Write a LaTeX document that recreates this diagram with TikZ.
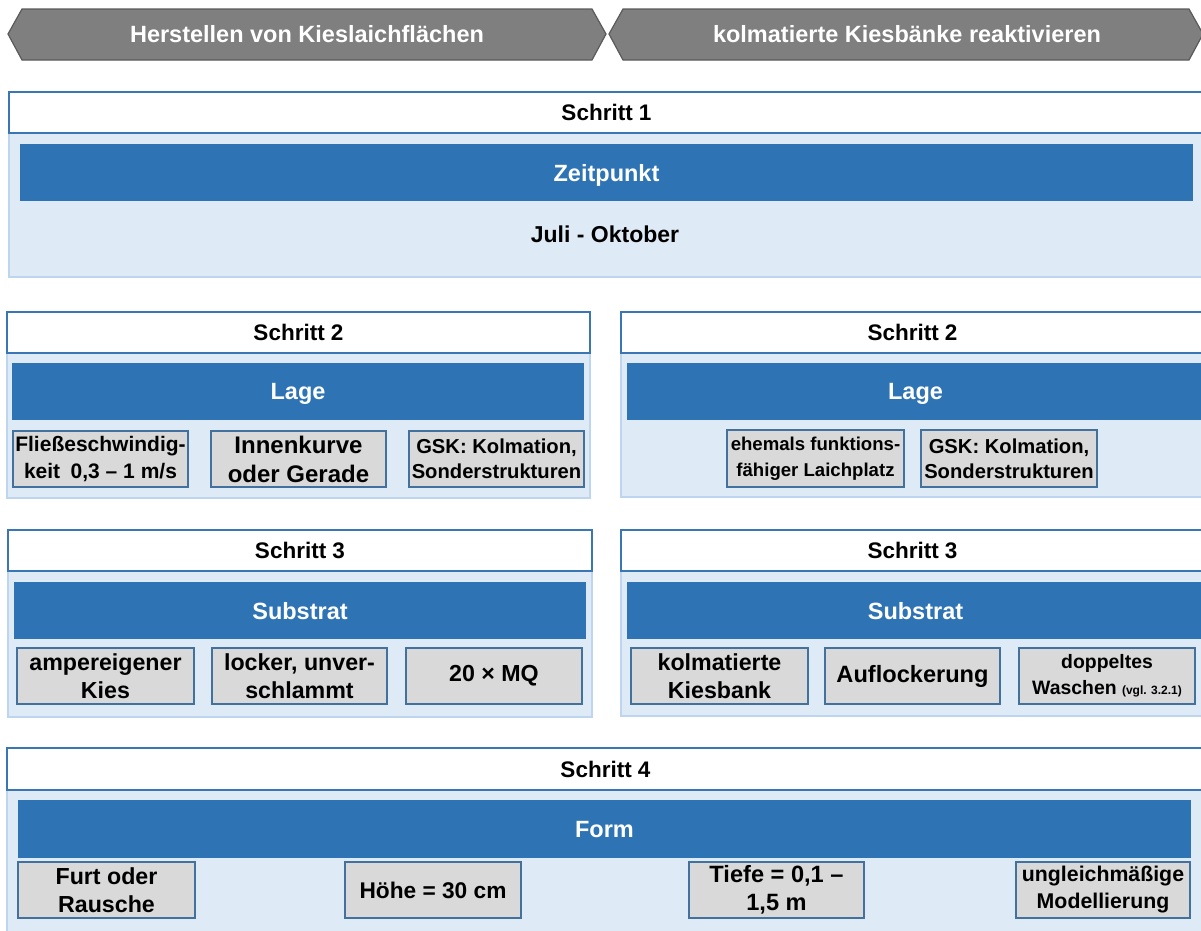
\documentclass[tikz,border=0pt]{standalone}
\usepackage{fontspec}
\setmainfont{Liberation Sans}
\usetikzlibrary{fit}
\definecolor{bannerfill}{HTML}{7F7F7F}
\definecolor{bannerdraw}{HTML}{5A5A5A}
\definecolor{hdrdraw}{HTML}{3A76B4}
\definecolor{panelfill}{HTML}{DEEAF6}
\definecolor{paneldraw}{HTML}{BDD5EE}
\definecolor{barfill}{HTML}{2E74B5}
\definecolor{cellfill}{HTML}{D9D9D9}
\definecolor{celldraw}{HTML}{41719C}
% #1 box style, #2 name, #3-#6 corners, #7 text style, #8 text
\newcommand\bx[8]{\node[#1, fit={(#3,#4) (#5,#6)}] (#2) {};
  \node[txt,#7] (#2t) at (#2.center) {#8};}
\begin{document}
\begin{tikzpicture}[x=1pt,y=-1pt,
  banner/.style={fill=bannerfill, draw=bannerdraw, line width=1.2pt},
  bannertext/.style={text=white, inner sep=0pt, text depth=0pt, font=\bfseries\fontsize{23.5}{28}\selectfont},
  txt/.style={inner sep=0pt, align=center},
  hdr/.style={fill=white, draw=hdrdraw, line width=1.5pt, inner sep=0pt},
  hdrtext/.style={text depth=0pt, font=\bfseries\fontsize{22.5}{27}\selectfont},
  panel/.style={fill=panelfill, draw=paneldraw, line width=1.8pt, inner sep=0pt},
  bar/.style={fill=barfill, inner sep=0pt},
  bartext/.style={text=white, text depth=0pt, font=\bfseries\fontsize{23.5}{28}\selectfont},
  plain/.style={inner sep=0pt, text depth=0pt, font=\bfseries\fontsize{23}{28}\selectfont},
  cell/.style={fill=cellfill, draw=celldraw, line width=1.5pt, inner sep=0pt},
  celltext/.style={font=\bfseries\fontsize{23.2}{28}\selectfont}
]
\useasboundingbox (0,0) rectangle (1201,930);
\clip (0,0) rectangle (1201,930);

% banners
\draw[banner] (8,34) -- (22,9) -- (592,9) -- (606,34) -- (592,60) -- (22,60) -- cycle;
\draw[banner] (609,34) -- (623,9) -- (1189,9) -- (1203,34) -- (1189,60) -- (623,60) -- cycle;
\node[bannertext] (t1) at (307,34) {Herstellen von Kieslaichflächen};
\node[bannertext] (t2) at (907,34) {kolmatierte Kiesbänke reaktivieren};

% Schritt 1
\bx{panel}{p1}{9}{133}{1204}{277}{}{}
\bx{hdr}{h1}{9}{92}{1204}{133}{hdrtext}{Schritt 1}
\bx{bar}{z1}{20}{144}{1193}{201}{bartext}{Zeitpunkt}
\node[plain] (j1) at (605,234) {Juli - Oktober};

% Schritt 2 left
\bx{panel}{p2l}{7}{353}{590}{498}{}{}
\bx{hdr}{h2l}{7}{312}{590}{353}{hdrtext}{Schritt 2}
\bx{bar}{l2l}{12}{363}{584}{420}{bartext}{Lage}
\bx{cell}{c2a}{13}{431}{188}{487}{font=\bfseries\fontsize{21}{27}\selectfont}{Fließeschwindig-\\keit\enspace 0,3 – 1 m/s}
\bx{cell}{c2b}{211}{431}{386}{487}{font=\bfseries\fontsize{24}{29}\selectfont}{Innenkurve\\oder Gerade}
\bx{cell}{c2c}{409}{431}{584}{487}{font=\bfseries\fontsize{20.2}{25}\selectfont}{GSK: Kolmation,\\Sonderstrukturen}

% Schritt 2 right
\bx{panel}{p2r}{621}{353}{1204}{497}{}{}
\bx{hdr}{h2r}{621}{312}{1204}{353}{hdrtext}{Schritt 2}
\bx{bar}{l2r}{627}{363}{1204}{420}{bartext}{Lage}
\bx{cell}{c2d}{727}{430}{904}{487}{font=\bfseries\fontsize{18.6}{26}\selectfont}{ehemals funktions-\\fähiger Laichplatz}
\bx{cell}{c2e}{921}{430}{1097}{487}{font=\bfseries\fontsize{20.2}{25}\selectfont}{GSK: Kolmation,\\Sonderstrukturen}

% Schritt 3 left
\bx{panel}{p3l}{8}{571}{592}{717}{}{}
\bx{hdr}{h3l}{8}{530}{592}{571}{hdrtext}{Schritt 3}
\bx{bar}{s3l}{14}{582}{586}{639}{bartext}{Substrat}
\bx{cell}{c3a}{17}{648}{194}{704}{celltext}{ampereigener\\Kies}
\bx{cell}{c3b}{212}{648}{387}{704}{celltext}{locker, unver-\\schlammt}
\bx{cell}{c3c}{406}{648}{582}{704}{celltext}{20 × MQ}

% Schritt 3 right
\bx{panel}{p3r}{621}{571}{1204}{716}{}{}
\bx{hdr}{h3r}{621}{530}{1204}{571}{hdrtext}{Schritt 3}
\bx{bar}{s3r}{627}{582}{1204}{639}{bartext}{Substrat}
\bx{cell}{c3d}{631}{648}{808}{704}{celltext}{kolmatierte\\Kiesbank}
\bx{cell}{c3e}{825}{648}{1000}{704}{font=\bfseries\fontsize{23.6}{28}\selectfont}{Auflockerung}
\bx{cell}{c3f}{1019}{648}{1195}{704}{font=\bfseries\fontsize{19.4}{26}\selectfont}{doppeltes\\Waschen {\fontsize{12}{14}\selectfont (vgl. 3.2.1)}}

% Schritt 4
\bx{panel}{p4}{7}{790}{1204}{935}{}{}
\bx{hdr}{h4}{7}{748}{1204}{790}{hdrtext}{Schritt 4}
\bx{bar}{f4}{18}{800}{1191}{858}{bartext}{Form}
\bx{cell}{c4a}{18}{862}{195}{918}{celltext}{Furt oder\\Rausche}
\bx{cell}{c4b}{345}{862}{521}{918}{font=\bfseries\fontsize{22.7}{28}\selectfont}{Höhe = 30 cm}
\bx{cell}{c4c}{689}{862}{864}{918}{font=\bfseries\fontsize{23.6}{28}\selectfont}{Tiefe = 0,1 –\\1,5 m}
\bx{cell}{c4d}{1016}{862}{1190}{918}{font=\bfseries\fontsize{21.3}{27}\selectfont}{ungleichmäßige\\Modellierung}
\end{tikzpicture}
\end{document}
